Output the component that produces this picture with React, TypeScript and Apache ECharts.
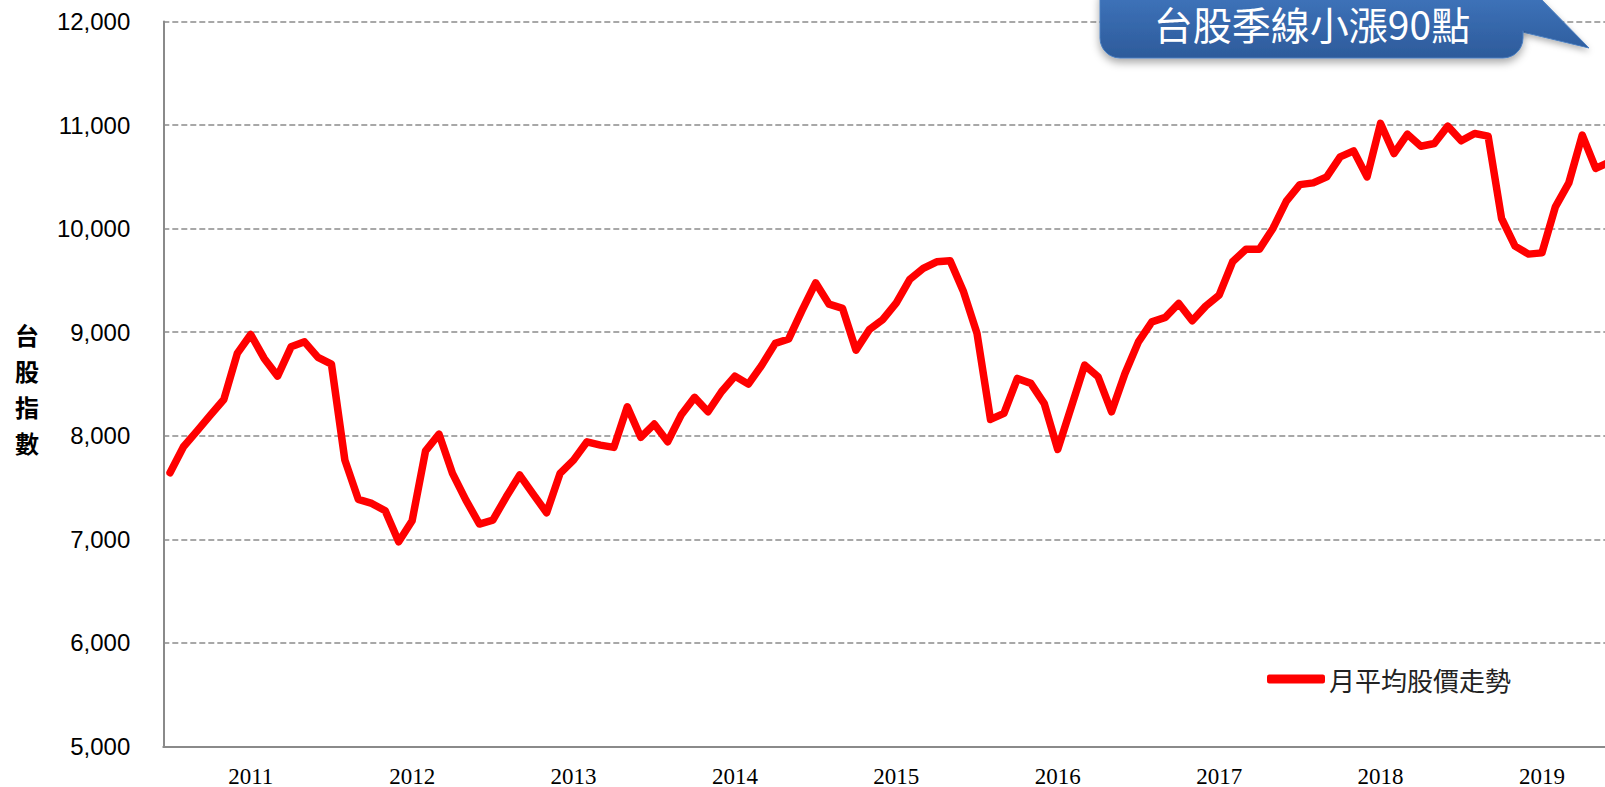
import React, { useEffect, useRef } from "react";
import * as echarts from "echarts";

// Monthly categories from 2010-07 to 2019-06
const startYear = 2010;
const startMonth = 7;
const monthCount = 108;
const months: string[] = [];
for (let i = 0; i < monthCount; i++) {
  const m0 = startMonth - 1 + i;
  const y = startYear + Math.floor(m0 / 12);
  const m = (m0 % 12) + 1;
  months.push(`${y}-${m < 10 ? "0" + m : m}`);
}

const yearTicks = ["2011", "2012", "2013", "2014", "2015", "2016", "2017", "2018", "2019"];

const seriesName = "月平均股價走勢";
const monthlyAvg = [
  7643, 7894, 8045, 8200, 8351, 8795, 8978, 8747, 8576, 8859, 8907, 8757,
  8692, 7765, 7386, 7347, 7276, 6977, 7180, 7855, 8016, 7637, 7379, 7148,
  7186, 7411, 7621, 7437, 7257, 7637, 7765, 7942, 7910, 7888, 8280, 7985,
  8113, 7942, 8200, 8371, 8232, 8425, 8576, 8499, 8682, 8892, 8935, 9213,
  9477, 9271, 9230, 8827, 9027, 9123, 9284, 9510, 9616, 9680, 9689, 9390,
  8988, 8158, 8216, 8554, 8506, 8310, 7869, 8274, 8682, 8570, 8232, 8602,
  8907, 9100, 9143, 9278, 9110, 9252, 9358, 9680, 9802, 9802, 10002, 10265,
  10425, 10442, 10500, 10693, 10751, 10500, 11016, 10725, 10912, 10796, 10822, 10990,
  10848, 10919, 10893, 10098, 9831, 9754, 9766, 10210, 10442, 10903, 10581, 10642,
];

const yMin = 5000;
const yMax = 12000;
const yStep = 1000;

const yAxisTitle = "台\n股\n指\n數";
const calloutText = "台股季線小漲90點";

export default function App() {
  const ref = useRef<HTMLDivElement>(null);

  useEffect(() => {
    if (!ref.current) return;
    const chart = echarts.init(ref.current, null, { renderer: "svg" });
    const boxFill = new echarts.graphic.LinearGradient(
      0, -20, 0, 58,
      [
        { offset: 0, color: "#4279c2" },
        { offset: 1, color: "#2d5b9b" },
      ],
      true
    );
    chart.setOption({
      animation: false,
      backgroundColor: "#ffffff",
      grid: {
        left: 163.3,
        top: 21.5,
        width: 1452.6,
        height: 725,
        containLabel: false,
        outerBoundsMode: "none",
      },
      legend: {
        data: [seriesName],
        left: 1267,
        top: 664,
        padding: 0,
        icon: "roundRect",
        itemWidth: 58,
        itemHeight: 9,
        textStyle: {
          fontFamily: "Noto Sans CJK TC",
          fontSize: 26,
          lineHeight: 30,
          color: "#222222",
          padding: [0, 0, 0, -1],
        },
      },
      xAxis: {
        type: "category",
        data: months,
        boundaryGap: true,
        axisLine: { lineStyle: { color: "#8a8a8a", width: 2 } },
        axisTick: {
          inside: true,
          length: 6,
          interval: 0,
          alignWithLabel: false,
          lineStyle: { color: "#8a8a8a", width: 1.5 },
        },
        axisLabel: {
          interval: 0,
          margin: 18,
          fontFamily: "Liberation Serif",
          fontSize: 23,
          color: "#000000",
          formatter: (v: string) => {
            const [yy, mm] = v.split("-");
            return mm === "01" && yearTicks.indexOf(yy) >= 0 ? yy : "";
          },
        },
        splitLine: { show: false },
      },
      yAxis: {
        type: "value",
        min: yMin,
        max: yMax,
        interval: yStep,
        axisLine: { show: true, lineStyle: { color: "#8a8a8a", width: 2 } },
        axisTick: { show: false },
        axisLabel: {
          margin: 33,
          fontFamily: "Liberation Sans",
          fontSize: 24,
          color: "#000000",
          formatter: (v: number) => v.toLocaleString("en-US"),
        },
        splitLine: {
          show: true,
          lineStyle: { color: "#8c8c8c", width: 1.5, type: [6, 3] },
        },
      },
      series: [
        {
          name: seriesName,
          type: "line",
          data: monthlyAvg,
          symbol: "none",
          lineStyle: { color: "#ff0000", width: 7.5, cap: "round", join: "round" },
          itemStyle: { color: "#ff0000" },
          z: 5,
        },
      ],
      graphic: [
        {
          type: "text",
          x: 27,
          y: 388.5,
          z: 50,
          style: {
            text: yAxisTitle,
            fontFamily: "Noto Sans CJK TC",
            fontSize: 24,
            fontWeight: "bold",
            lineHeight: 36,
            fill: "#000000",
            align: "center",
            verticalAlign: "middle",
          },
        },
        {
          type: "group",
          z: 100,
          children: [
            {
              type: "polygon",
              z: 100,
              shape: {
                points: [
                  [1495, -5],
                  [1537, -5],
                  [1589, 48],
                  [1518, 31],
                ],
              },
              style: {
                fill: boxFill,
                stroke: "#4a7ebf",
                lineWidth: 1,
                shadowBlur: 6,
                shadowOffsetY: 3,
                shadowColor: "rgba(0,0,0,0.3)",
              },
            },
            {
              type: "rect",
              z: 101,
              shape: { x: 1100, y: -20, width: 423, height: 78, r: 20 },
              style: {
                fill: boxFill,
                stroke: "#4a7ebf",
                lineWidth: 1,
                shadowBlur: 8,
                shadowOffsetY: 4,
                shadowColor: "rgba(0,0,0,0.35)",
              },
            },
            {
              type: "polygon",
              z: 102,
              shape: {
                points: [
                  [1500, -2],
                  [1536, -2],
                  [1587, 47],
                  [1520, 30],
                  [1500, 30],
                ],
              },
              style: { fill: boxFill },
            },
            {
              type: "text",
              z: 103,
              x: 1312,
              y: 23,
              style: {
                text: calloutText,
                fontFamily: "Noto Sans CJK TC",
                fontSize: 39,
                fill: "#ffffff",
                align: "center",
                verticalAlign: "middle",
              },
            },
          ],
        },
      ],
    });
    return () => chart.dispose();
  }, []);

  return (
    <div
      ref={ref}
      style={{ position: "fixed", left: 0, top: 0, width: 1605, height: 787 }}
    />
  );
}
